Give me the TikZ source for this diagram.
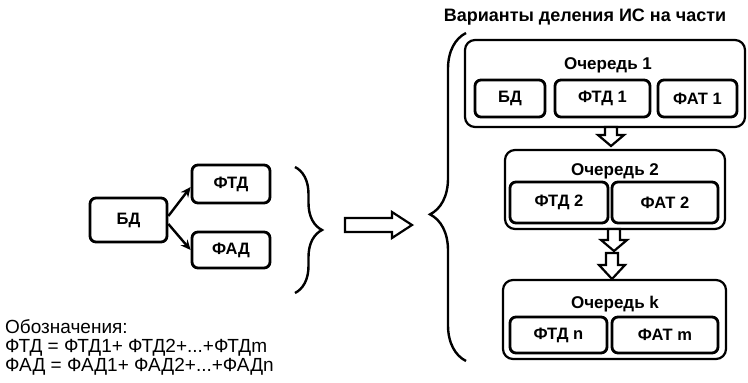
\documentclass[tikz,border=0pt]{standalone}
\usepackage{fontspec}
\setmainfont{Liberation Sans}
\usetikzlibrary{decorations.pathreplacing,arrows.meta}
\tikzset{
  inbox/.style={draw, line width=2.8pt, rounded corners=6pt, inner sep=0pt,
    font=\bfseries\fontsize{16.5}{18}\selectfont},
  outbox/.style={draw, line width=2.2pt, rounded corners=10pt, inner sep=0pt},
  qlabel/.style={anchor=base, inner sep=0pt, font=\bfseries\fontsize{17}{19}\selectfont},
  hollow/.style={draw, line width=2.2pt, fill=white, line join=miter},
  bracestyle/.style={draw, line width=2.4pt, decorate},
  conn/.style={line width=2.4pt, -{Stealth[length=10pt,width=9pt]}},
  legend/.style={anchor=base west, inner sep=0pt, font=\fontsize{19}{21}\selectfont}
}
\begin{document}
\begin{tikzpicture}[x=1pt,y=-1pt]
\useasboundingbox (0,0) rectangle (748,383);
% left part
\node[inbox, minimum width=77pt, minimum height=44pt] (bd) at (128.5,220) {БД};
\node[inbox, minimum width=78pt, minimum height=38pt] (ftd) at (231,184) {ФТД};
\node[inbox, minimum width=78pt, minimum height=36pt] (fad) at (231,250) {ФАД};
\draw[conn] ([yshift=4pt]bd.east) -- ([yshift=-3pt]ftd.west);
\draw[conn] ([yshift=-4pt]bd.east) -- (fad.west);
\coordinate (rbA) at (295,167);
\coordinate (rbB) at (295,293);
\draw[bracestyle, decoration={brace, amplitude=27pt}] (rbA) -- (rbB);
% hollow right arrow
\draw[hollow] (345,218) -- (392,218) -- (392,212) -- (412,225) -- (392,238) -- (392,232) -- (345,232) -- cycle;
% big brace
\coordinate (bbA) at (466,361);
\coordinate (bbB) at (466,33);
\draw[bracestyle, decoration={brace, amplitude=36pt, aspect=0.447}] (bbA) -- (bbB);
% title
\node[anchor=base, inner sep=0pt, font=\bfseries\fontsize{18}{20}\selectfont] (title) at (585,21) {Варианты деления ИС на части};
% queue 1
\node[outbox, minimum width=280pt, minimum height=87pt] (q1) at (605,83.5) {};
\node[qlabel] (q1l) at (608,69) {Очередь 1};
\node[inbox, minimum width=70pt, minimum height=37pt] (q1a) at (510,98.5) {БД};
\node[inbox, minimum width=95pt, minimum height=37pt] (q1b) at (602.5,98.5) {ФТД 1};
\node[inbox, minimum width=79pt, minimum height=37pt] (q1c) at (697.5,98.5) {ФАТ 1};
% queue 2
\node[outbox, minimum width=220pt, minimum height=79pt] (q2) at (615,189.5) {};
\node[qlabel] (q2l) at (615,175) {Очередь 2};
\node[inbox, minimum width=98pt, minimum height=41pt] (q2a) at (559,202.5) {ФТД 2};
\node[inbox, minimum width=106pt, minimum height=41pt] (q2b) at (665,202.5) {ФАТ 2};
% queue k
\node[outbox, minimum width=223pt, minimum height=79pt] (qk) at (614.5,319.5) {};
\node[qlabel] (qkl) at (615,308) {Очередь k};
\node[inbox, minimum width=97pt, minimum height=36pt] (qka) at (558.5,335) {ФТД n};
\node[inbox, minimum width=106pt, minimum height=36pt] (qkb) at (665,335) {ФАТ m};
% hollow down arrows
\draw[hollow] (605,127) -- (617,127) -- (617,135) -- (624,135) -- (611,146) -- (598,135) -- (605,135) -- cycle;
\draw[hollow] (608,229) -- (620,229) -- (620,240) -- (627,240) -- (614,251) -- (601,240) -- (608,240) -- cycle;
\draw[hollow] (606,253) -- (618,253) -- (618,265) -- (625,265) -- (612,279) -- (599,265) -- (606,265) -- cycle;
% legend
\node[legend] (lg1) at (5,333) {Обозначения:};
\node[legend] (lg2) at (5,352) {ФТД = ФТД1+ ФТД2+...+ФТДm};
\node[legend] (lg3) at (5,371) {ФАД = ФАД1+ ФАД2+...+ФАДn};
\end{tikzpicture}
\end{document}
